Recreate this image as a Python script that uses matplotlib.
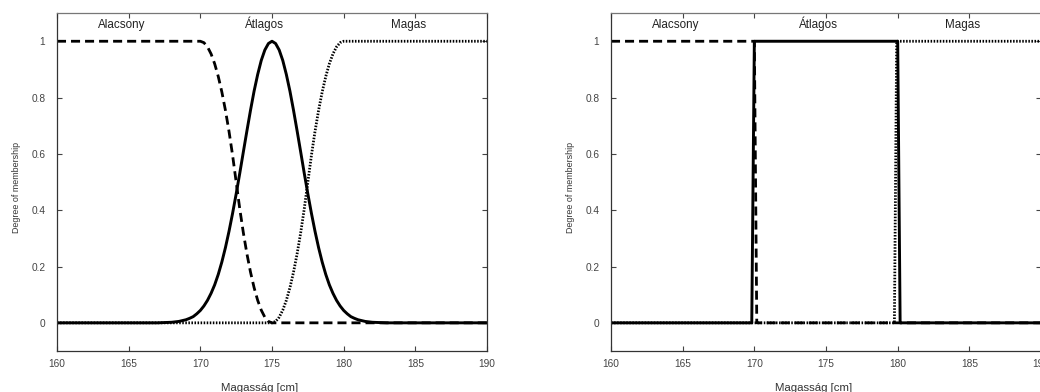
# fuzzy vs crisp height sets (alacsony / atlagos / magas)
import matplotlib
matplotlib.use('Agg')
import matplotlib.pyplot as plt

plt.rcParams['font.family'] = ['Liberation Sans', 'DejaVu Sans']
plt.rcParams['lines.scale_dashes'] = False

# fuzzy membership functions
height_fuzzy = [160, 166, 167, 168, 168.5,
                169, 169.25, 169.5, 169.75, 170, 170.25, 170.5, 170.75, 171, 171.25, 171.5, 171.75,
                172, 172.25, 172.5, 172.75, 173, 173.25, 173.5, 173.75, 174, 174.25, 174.5, 174.75,
                175,
                175.25, 175.5, 175.75, 176, 176.25, 176.5, 176.75, 177, 177.25, 177.5, 177.75, 178,
                178.25, 178.5, 178.75, 179, 179.25, 179.5, 179.75, 180, 180.25, 180.5, 180.75, 181,
                181.5, 182, 183, 184, 190]
alacsony_fuzzy = [1, 1, 1, 1, 1,
                  1, 1, 1, 1, 1, 0.995, 0.98, 0.955, 0.92, 0.875, 0.82, 0.755,
                  0.68, 0.595, 0.5, 0.405, 0.32, 0.245, 0.18, 0.125, 0.08, 0.045, 0.02, 0.005,
                  0,
                  0, 0, 0, 0, 0, 0, 0, 0, 0, 0, 0, 0,
                  0, 0, 0, 0, 0, 0, 0, 0, 0, 0, 0, 0,
                  0, 0, 0, 0, 0]
atlagos_fuzzy = [0, 0, 0, 0.002, 0.005,
                 0.011, 0.016, 0.022, 0.032, 0.044, 0.06, 0.08, 0.105, 0.135, 0.172, 0.216, 0.267,
                 0.325, 0.389, 0.458, 0.531, 0.607, 0.682, 0.755, 0.823, 0.882, 0.932, 0.969, 0.992,
                 1.0,
                 0.992, 0.969, 0.932, 0.882, 0.823, 0.755, 0.682, 0.607, 0.531, 0.458, 0.389, 0.325,
                 0.267, 0.216, 0.172, 0.135, 0.105, 0.08, 0.06, 0.044, 0.032, 0.022, 0.016, 0.011,
                 0.005, 0.002, 0, 0, 0]
magas_fuzzy = [0, 0, 0, 0, 0,
               0, 0, 0, 0, 0, 0, 0, 0, 0, 0, 0, 0,
               0, 0, 0, 0, 0, 0, 0, 0, 0, 0, 0, 0,
               0,
               0.005, 0.02, 0.045, 0.08, 0.125, 0.18, 0.245, 0.32, 0.405, 0.5, 0.595, 0.68,
               0.755, 0.82, 0.875, 0.92, 0.955, 0.98, 0.995, 1, 1, 1, 1, 1,
               1, 1, 1, 1, 1]

# crisp sets, right panel
alacsony_crisp_x = [160, 170.0, 170.17, 190]
alacsony_crisp_y = [1, 1, 0, 0]
atlagos_crisp_x = [160, 169.82, 170.0, 180.0, 180.17, 190]
atlagos_crisp_y = [0, 0, 1, 1, 0, 0]
magas_crisp_x = [160, 179.77, 179.93, 190]
magas_crisp_y = [0, 0, 1, 1]

set_names = ['Alacsony', 'Átlagos', 'Magas']
name_pos = [164.5, 174.5, 184.5]
xticks = [160, 165, 170, 175, 180, 185, 190]
yticks = [0, 0.2, 0.4, 0.6, 0.8, 1]
ytick_labels = ['0', '0.2', '0.4', '0.6', '0.8', '1']

fig = plt.figure(figsize=(10.4, 3.92), dpi=100)
ax1 = fig.add_axes([0.0548, 0.1046, 0.4135, 0.862])
ax2 = fig.add_axes([0.5875, 0.1046, 0.4135, 0.862])

dash = (0, (6.5, 3.6))
dot = (0, (1.1, 1.1))

ax1.plot(height_fuzzy, alacsony_fuzzy, color='k', lw=2.0, linestyle=dash)
ax1.plot(height_fuzzy, atlagos_fuzzy, color='k', lw=2.1)
ax1.plot(height_fuzzy, magas_fuzzy, color='k', lw=2.0, linestyle=dot)

ax2.plot(alacsony_crisp_x, alacsony_crisp_y, color='k', lw=2.0, linestyle=dash)
ax2.plot(atlagos_crisp_x, atlagos_crisp_y, color='k', lw=2.1)
ax2.plot(magas_crisp_x, magas_crisp_y, color='k', lw=2.0, linestyle=dot)

for ax in [ax1, ax2]:
    ax.set_xlim(160, 190)
    ax.set_ylim(-0.1, 1.1)
    ax.set_xticks(xticks)
    ax.set_yticks(yticks)
    ax.set_yticklabels(ytick_labels)
    ax.tick_params(direction='in', length=3.5, width=0.8, color='#444444',
                   top=True, right=True, labelsize=7.3, labelcolor='#444444')
    ax.tick_params(axis='y', pad=8.4)
    ax.tick_params(axis='x', pad=6.0)
    for s in ax.spines.values():
        s.set_color('#333333')
        s.set_linewidth(0.9)
    ax.spines['top'].set_color('#777777')
    for i in range(3):
        ax.text(name_pos[i], 1.046, set_names[i], ha='center', va='baseline',
                fontsize=8.4, color='#222222')
    ax.set_xlabel('Magasság [cm]', fontsize=8.2, color='#333333')
    ax.xaxis.set_label_coords(0.47, -0.095)
    ax.set_ylabel('Degree of membership', fontsize=6.4, color='#333333')
    ax.yaxis.set_label_coords(-0.084, 0.485)

fig.savefig('out.png', dpi=100)
